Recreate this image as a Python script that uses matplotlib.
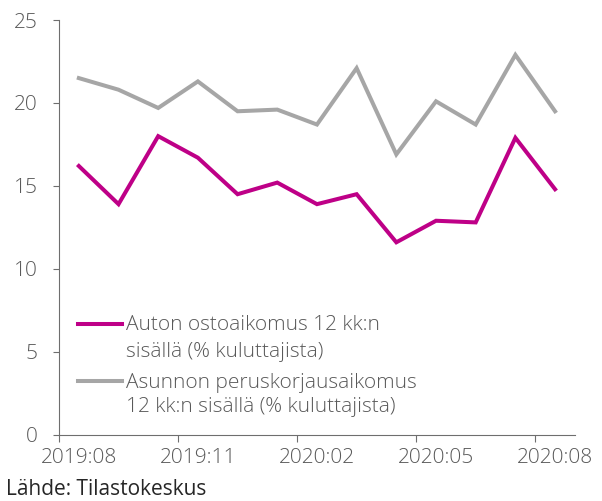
import matplotlib
matplotlib.use('Agg')
import matplotlib.pyplot as plt
from matplotlib.lines import Line2D

# monthly data 2019:08 - 2020:08
months = ['2019:08', '2019:09', '2019:10', '2019:11', '2019:12', '2020:01', '2020:02',
          '2020:03', '2020:04', '2020:05', '2020:06', '2020:07', '2020:08']
auto = [16.2, 13.9, 18.0, 16.7, 14.5, 15.2, 13.9, 14.5, 11.6, 12.9, 12.8, 17.9, 14.8]
asunto = [21.5, 20.8, 19.7, 21.3, 19.5, 19.6, 18.7, 22.1, 16.9, 20.1, 18.7, 22.9, 19.5]
labels = [['Auton ostoaikomus 12 kk:n', 'sisällä (% kuluttajista)'],
          ['Asunnon peruskorjausaikomus', '12 kk:n sisällä (% kuluttajista)']]
source = 'Lähde: Tilastokeskus'

MAGENTA = '#BE0087'
GREY = '#A6A6A6'
TEXT = '#595959'
AXIS = '#6E6E6E'
FS = 15

plt.rcParams['font.family'] = ['Open Sans', 'DejaVu Sans']
plt.rcParams['font.weight'] = 'light'

fig = plt.figure(figsize=(6.02, 5.01), dpi=100)
ax = fig.add_axes([0.098, 0.1323, 0.857, 0.8277])

x = list(range(len(months)))
ax.plot(x, auto, color=MAGENTA, lw=2.9, solid_joinstyle='miter')
ax.plot(x, asunto, color=GREY, lw=2.9, solid_joinstyle='miter')

ax.set_xlim(-0.5, len(months) - 0.5)
ax.set_ylim(0, 25)
ax.set_yticks([0, 5, 10, 15, 20, 25])

# labels at category centers, tick marks at category boundaries
ax.set_xticks(x[::3])
ax.set_xticklabels(months[::3])
ax.set_xticks([i - 0.5 for i in x[::3]], minor=True)
ax.tick_params(axis='x', which='major', length=0, pad=9.5, labelsize=FS, labelcolor=TEXT)
ax.tick_params(axis='x', which='minor', length=5, width=0.8, color=AXIS, direction='out')
ax.tick_params(axis='y', length=4.3, width=0.8, color=AXIS, pad=11, labelsize=FS, labelcolor=TEXT)

for s in ['top', 'right']:
    ax.spines[s].set_visible(False)
for s in ['left', 'bottom']:
    ax.spines[s].set_color(AXIS)
    ax.spines[s].set_linewidth(0.8)

# legend drawn by hand so the handle sits on the first text line
colors = [MAGENTA, GREY]
handle_y = [0.267, 0.1295]
line_y = [[0.2525, 0.1873], [0.1126, 0.0547]]
for c, hy, ly, lab in zip(colors, handle_y, line_y, labels):
    ax.add_line(Line2D([0.037, 0.122], [hy, hy], color=c, lw=2.9,
                       transform=ax.transAxes, clip_on=False))
    for yy, t in zip(ly, lab):
        ax.text(0.129, yy, t, transform=ax.transAxes, va='baseline', ha='left',
                fontsize=FS, color=TEXT)

fig.text(0.0095, 0.011, source, ha='left', va='baseline', fontsize=FS,
         fontweight='normal', color='#262626')

fig.savefig('out.png', dpi=100)
